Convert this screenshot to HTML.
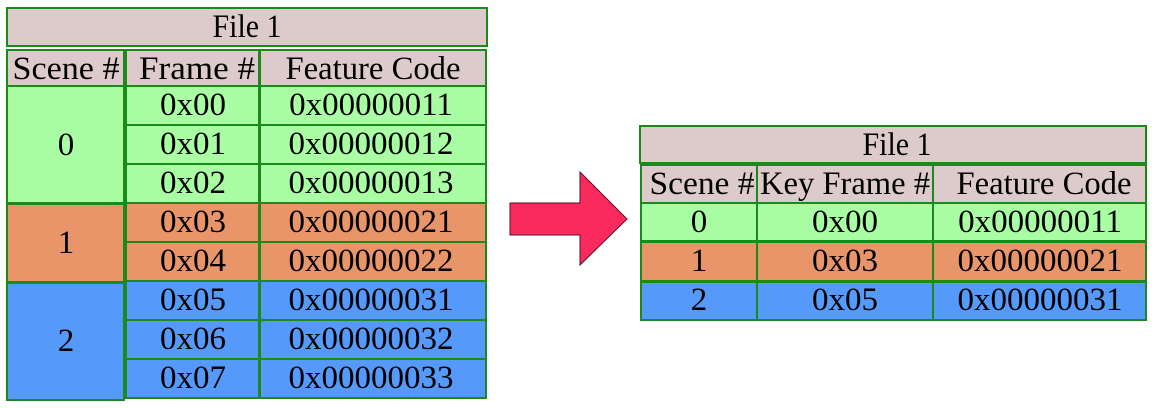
<!DOCTYPE html>
<html><head><meta charset="utf-8"><style>
html,body{margin:0;padding:0;background:#fff;width:1167px;height:408px;overflow:hidden}
svg{display:block}
text{font-family:"Liberation Serif",serif;font-size:33px;fill:#000;text-anchor:middle;dominant-baseline:central}
rect{stroke:#1b8a1b;stroke-width:2}
</style></head><body>
<svg width="1167" height="408" viewBox="0 0 1167 408">
<!-- Left table -->
<rect x="7" y="8" width="480" height="38" fill="#dccbca"/>
<text x="247" y="27" textLength="69" lengthAdjust="spacingAndGlyphs">File 1</text>
<rect x="7" y="50" width="117" height="36" fill="#dccbca"/>
<rect x="126" y="50" width="133" height="36" fill="#dccbca"/>
<rect x="260" y="50" width="226" height="36" fill="#dccbca"/>
<text x="66" y="69" textLength="107" lengthAdjust="spacingAndGlyphs">Scene #</text>
<text x="197" y="69" textLength="116" lengthAdjust="spacingAndGlyphs">Frame #</text>
<text x="373" y="69" textLength="175" lengthAdjust="spacingAndGlyphs">Feature Code</text>

<rect x="7" y="86" width="117" height="117" fill="#a9fda3"/>
<text x="66" y="145">0</text>
<rect x="7" y="204" width="117" height="78" fill="#e8956a"/>
<text x="66" y="243">1</text>
<rect x="7" y="283" width="117" height="117" fill="#5599fa"/>
<text x="66" y="341">2</text>

<g>
<rect x="126" y="86" width="133" height="39" fill="#a9fda3"/><rect x="260" y="86" width="226" height="39" fill="#a9fda3"/>
<text x="193" y="105">0x00</text><text x="371" y="105">0x00000011</text>
<rect x="126" y="125" width="133" height="39" fill="#a9fda3"/><rect x="260" y="125" width="226" height="39" fill="#a9fda3"/>
<text x="193" y="144">0x01</text><text x="371" y="144">0x00000012</text>
<rect x="126" y="164" width="133" height="39" fill="#a9fda3"/><rect x="260" y="164" width="226" height="39" fill="#a9fda3"/>
<text x="193" y="183">0x02</text><text x="371" y="183">0x00000013</text>
<rect x="126" y="203" width="133" height="39" fill="#e8956a"/><rect x="260" y="203" width="226" height="39" fill="#e8956a"/>
<text x="193" y="222">0x03</text><text x="371" y="222">0x00000021</text>
<rect x="126" y="242" width="133" height="39" fill="#e8956a"/><rect x="260" y="242" width="226" height="39" fill="#e8956a"/>
<text x="193" y="261">0x04</text><text x="371" y="261">0x00000022</text>
<rect x="126" y="281" width="133" height="39" fill="#5599fa"/><rect x="260" y="281" width="226" height="39" fill="#5599fa"/>
<text x="193" y="300">0x05</text><text x="371" y="300">0x00000031</text>
<rect x="126" y="320" width="133" height="39" fill="#5599fa"/><rect x="260" y="320" width="226" height="39" fill="#5599fa"/>
<text x="193" y="339">0x06</text><text x="371" y="339">0x00000032</text>
<rect x="126" y="359" width="133" height="39" fill="#5599fa"/><rect x="260" y="359" width="226" height="39" fill="#5599fa"/>
<text x="193" y="378">0x07</text><text x="371" y="378">0x00000033</text>
</g>

<!-- Arrow -->
<polygon points="510,203 580,203 580,172 627,219 580,265 580,235 510,235" fill="#fb2a5e" stroke="#5a1020" stroke-width="1"/>

<!-- Right table -->
<rect x="640" y="126" width="506" height="37" fill="#dccbca"/>
<text x="897" y="145" textLength="69" lengthAdjust="spacingAndGlyphs">File 1</text>
<rect x="641" y="165" width="116" height="38" fill="#dccbca"/>
<rect x="757" y="165" width="176" height="38" fill="#dccbca"/>
<rect x="933" y="165" width="213" height="38" fill="#dccbca"/>
<text x="702" y="184" textLength="105" lengthAdjust="spacingAndGlyphs">Scene #</text>
<text x="845" y="184" textLength="170" lengthAdjust="spacingAndGlyphs">Key Frame #</text>
<text x="1044" y="184" textLength="175" lengthAdjust="spacingAndGlyphs">Feature Code</text>

<rect x="641" y="203" width="116" height="38" fill="#a9fda3"/><rect x="757" y="203" width="176" height="38" fill="#a9fda3"/><rect x="933" y="203" width="213" height="38" fill="#a9fda3"/>
<text x="699" y="222">0</text><text x="845" y="222">0x00</text><text x="1040" y="222">0x00000011</text>
<rect x="641" y="242" width="116" height="39" fill="#e8956a"/><rect x="757" y="242" width="176" height="39" fill="#e8956a"/><rect x="933" y="242" width="213" height="39" fill="#e8956a"/>
<text x="699" y="261">1</text><text x="845" y="261">0x03</text><text x="1040" y="261">0x00000021</text>
<rect x="641" y="282" width="116" height="38" fill="#5599fa"/><rect x="757" y="282" width="176" height="38" fill="#5599fa"/><rect x="933" y="282" width="213" height="38" fill="#5599fa"/>
<text x="699" y="300">2</text><text x="845" y="300">0x05</text><text x="1040" y="300">0x00000031</text>
</svg>
</body></html>
